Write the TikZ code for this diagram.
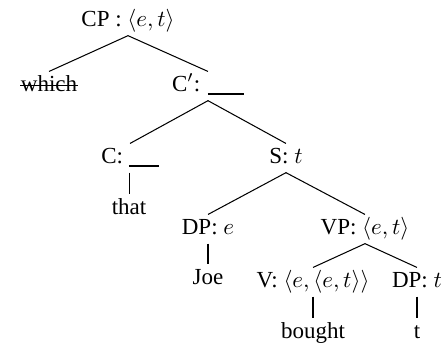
\documentclass[tikz,border=0pt]{standalone}
\usepackage{fontspec}
\setmainfont{Liberation Serif}
\begin{document}
\begin{tikzpicture}[x=0.4348pt, y=-0.4348pt,
  lab/.style={anchor=base, inner xsep=0pt, inner ysep=1.8pt, text height=6.5pt, text depth=2.2pt, font=\fontsize{10}{12}\selectfont},
  edge/.style={line width=0.45pt},
  strike/.style={line width=0.5pt}]
\useasboundingbox (0,0) rectangle (443,345);
\newcommand{\blankline}[1]{\rule[-1.8pt]{#1}{0.8pt}}
\node[lab] (cp) at (128,26) {CP : $\langle e,t\rangle$};
\node[lab] (which) at (49,91) {which};
\node[lab] (cbar) at (208,91) {C$'$: \blankline{15.6pt}};
\node[lab] (c) at (130,163) {C: \blankline{13pt}};
\node[lab] (s) at (286,163) {S: $t$};
\node[lab] (that) at (129,214) {that};
\node[lab] (dpe) at (208,234) {DP: $e$};
\node[lab] (vp) at (365,234) {VP: $\langle e,t\rangle$};
\node[lab] (joe) at (208,284) {Joe};
\node[lab] (v) at (313,287) {V: $\langle e,\langle e,t\rangle\rangle$};
\node[lab] (dpt) at (417,287) {DP: $t$};
\node[lab] (bought) at (313,338) {bought};
\node[lab] (t) at (417,338) {t};
\draw[strike] ([yshift=2.4pt]which.base west) -- ([yshift=2.4pt]which.base east);
\draw[edge] (cp.south) -- (which.north);
\draw[edge] (cp.south) -- (cbar.north);
\draw[edge] (cbar.south) -- (c.north);
\draw[edge] (cbar.south) -- (s.north);
\draw[edge] ([xshift=-0.4pt]c.south) -- ([xshift=-0.4pt]c.south |- that.north);
\draw[edge] (s.south) -- (dpe.north);
\draw[edge] (s.south) -- (vp.north);
\draw[edge] (dpe.south) -- (joe.north);
\draw[edge] (vp.south) -- (v.north);
\draw[edge] (vp.south) -- (dpt.north);
\draw[edge] (v.south) -- (bought.north);
\draw[edge] (dpt.south) -- (t.north);
\end{tikzpicture}
\end{document}
